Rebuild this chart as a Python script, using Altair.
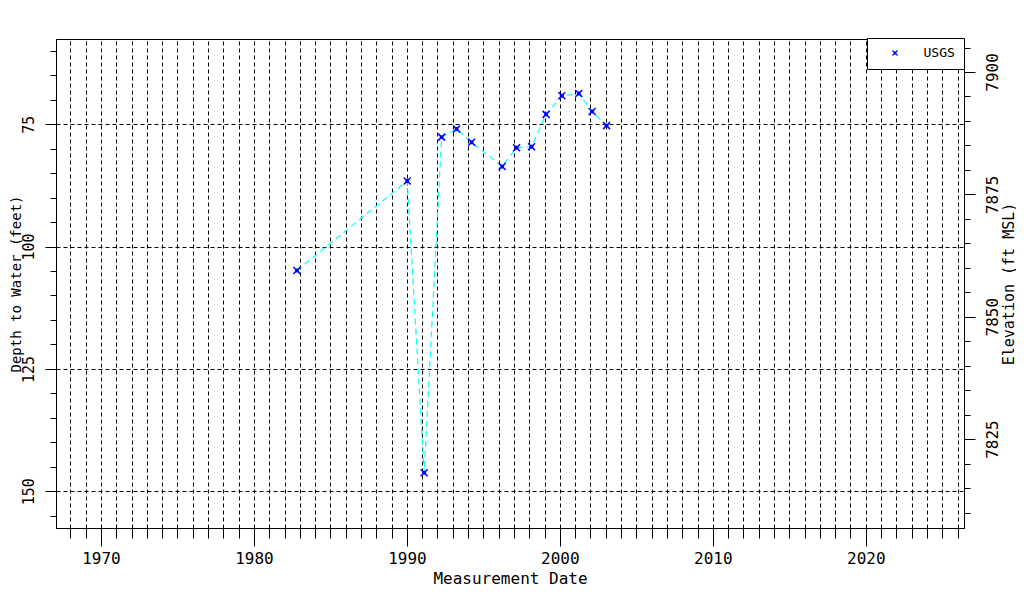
import altair as alt
import pandas as pd

# Measurement dates (decimal years) and depth to water (feet)
years = [1982.81, 1990.02, 1991.13, 1992.27, 1993.25, 1994.23, 1996.23,
         1997.17, 1998.15, 1999.10, 2000.13, 2001.24, 2002.11, 2003.05]
depths = [104.9, 86.6, 146.2, 77.65, 76.0, 78.7, 83.65,
          79.8, 79.6, 73.0, 69.2, 68.75, 72.4, 75.3]
source = ["USGS"] * len(years)

# Land-surface elevation offset (ft MSL): elevation = DATUM - depth
DATUM = 7964.34

x_domain = [1967.06, 2026.42]
depth_domain = [57.6, 157.5]
elev_domain = [DATUM - depth_domain[1], DATUM - depth_domain[0]]

x_ticks = list(range(1968, 2027))
depth_ticks = list(range(60, 156, 5))
elev_ticks = list(range(7810, 7906, 5))

df = pd.DataFrame({"year": years, "depth": depths, "source": source})

FONT = "DejaVu Sans Mono"
MARK = "M-1,-1L1,1M-1,1L1,-1M-0.35,-0.35L0.35,-0.35L0.35,0.35L-0.35,0.35Z"

x_axis = alt.Axis(
    values=x_ticks,
    labelExpr="datum.value % 10 === 0 ? datum.label : ''",
    format="d",
    tickSize={"condition": {"test": "datum.value % 10 === 0", "value": 18}, "value": 10},
    labelPadding=4,
    grid=True, gridColor="black", gridDash=[4, 3], gridWidth=1,
    title="Measurement Date", titleBaseline="top", titleY=42,
)

y_axis = alt.Axis(
    values=depth_ticks,
    labelExpr="datum.value % 25 === 0 ? datum.label : ''",
    format="d",
    tickSize={"condition": {"test": "datum.value % 25 === 0", "value": 11}, "value": 6},
    labelAngle=270, labelAlign="center", labelBaseline="bottom", labelPadding=9,
    labelFontSize=15,
    grid=True, gridColor="black", gridDash=[4, 3], gridWidth=1,
    gridOpacity={"condition": {"test": "datum.value % 25 === 0", "value": 1}, "value": 0},
    title="Depth to Water (feet)", titleAngle=270, titleBaseline="bottom", titleX=-33,
    titleFontSize=14,
)

elev_axis = alt.Axis(
    orient="right",
    values=elev_ticks,
    labelExpr="datum.value % 25 === 0 ? datum.label : ''",
    format="d",
    tickSize={"condition": {"test": "datum.value % 25 === 0", "value": 11}, "value": 6},
    labelAngle=270, labelAlign="center", labelBaseline="top", labelPadding=9,
    grid=False,
    title="Elevation (ft MSL)", titleAngle=270, titleBaseline="top", titleX=37,
    titleFontSize=15,
)

X = alt.X("year:Q", scale=alt.Scale(domain=x_domain, nice=False, zero=False), axis=x_axis)
Y = alt.Y("depth:Q", scale=alt.Scale(domain=depth_domain, reverse=True, nice=False, zero=False), axis=y_axis)

legend_opts = dict(title=None, orient="none", legendX=811, legendY=-1,
                   strokeColor="black", fillColor="white", padding=8.5,
                   cornerRadius=0, symbolSize=25, symbolOffset=13,
                   labelOffset=22, labelFontSize=13, labelFont=FONT,
                   symbolStrokeWidth=1.2, symbolOpacity=1)

base = alt.Chart(df)

line = base.mark_line(color="#00FFFF", strokeDash=[6, 4], strokeWidth=1.2).encode(x=X, y=Y)

points = base.mark_point(filled=False, size=49, strokeWidth=1.5, opacity=1).encode(
    x=X, y=Y,
    color=alt.Color("source:N", scale=alt.Scale(domain=["USGS"], range=["#0000FF"]),
                    legend=alt.Legend(**legend_opts)),
    shape=alt.Shape("source:N", scale=alt.Scale(domain=["USGS"], range=[MARK]),
                    legend=alt.Legend(**legend_opts)),
)

elev = base.transform_calculate(elev=f"{DATUM} - datum.depth").mark_point(opacity=0).encode(
    x=X,
    y=alt.Y("elev:Q", scale=alt.Scale(domain=elev_domain, nice=False, zero=False), axis=elev_axis),
)

chart = alt.layer(alt.layer(line, points), elev).resolve_scale(y="independent").properties(
    width=908, height=489,
    autosize=alt.AutoSizeParams(type="none"),
    padding={"left": 48, "top": 31, "right": 52, "bottom": 58},
    background="white",
).configure_view(
    stroke="black", strokeWidth=1
).configure_axis(
    domainColor="black", tickColor="black", labelColor="black", titleColor="black",
    labelFont=FONT, titleFont=FONT, labelFontSize=16, titleFontSize=16,
    titleFontWeight="normal", domainWidth=1, tickWidth=1,
)

chart.save("out.html", embed_options={"renderer": "svg", "actions": False})
